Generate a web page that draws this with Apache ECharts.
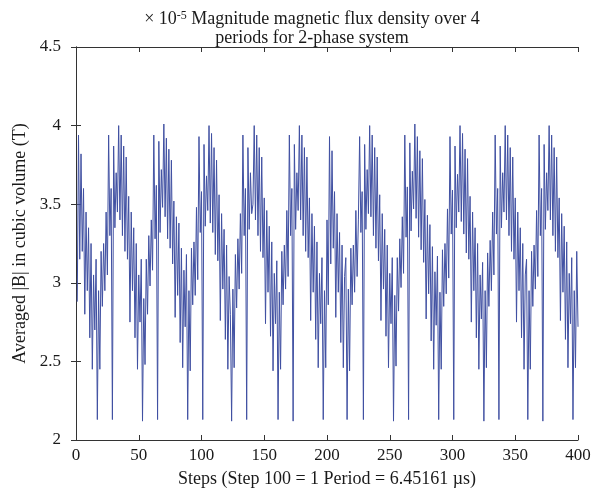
<!DOCTYPE html>
<html style="height: 100%">
<head>
    <meta charset="UTF-8">
    <title>Magnitude magnetic flux density</title>
    <script type="text/javascript" src="https://cdn.jsdelivr.net/npm/echarts@6/dist/echarts.min.js"></script>
</head>
<body style="height: 100%; margin: 0; background: #fff">
    <div id="container" style="width: 608px; height: 493px"></div>
    <script type="text/javascript">
        // averaged |B| (x 1e-5 T), steps 1..200 and 201..400
        var firstRun = [
            2.88, 3.94, 3.15, 3.82, 3.20, 3.60, 2.80, 3.45, 2.95, 3.35, 2.65, 3.25, 2.45, 3.05, 2.70, 3.15,
            2.13, 2.95, 2.45, 3.20, 2.85, 3.25, 2.95, 3.45, 3.05, 3.94, 3.30, 3.60, 2.13, 3.87, 3.35, 3.70, 3.45, 4.00,
            3.40, 3.94, 3.30, 3.87, 3.20, 3.80, 3.15, 3.55, 2.75, 3.45, 2.95, 3.35, 2.65, 3.25, 2.45, 3.05, 2.75, 3.15,
            2.12, 2.90, 2.48, 3.15, 2.80, 3.30, 2.98, 3.40, 3.08, 3.94, 3.28, 3.62, 2.13, 3.90, 3.32, 3.72, 3.48, 4.01,
            3.42, 3.92, 3.28, 3.85, 3.22, 3.78, 3.12, 3.52, 2.78, 3.42, 2.92, 3.38, 2.62, 3.22, 2.46, 3.08, 2.72, 3.18,
            2.13, 2.95, 2.44, 3.22, 2.86, 3.26, 2.92, 3.48, 3.02, 3.93, 3.32, 3.58, 2.13, 3.88, 3.36, 3.68, 3.46, 4.00,
            3.38, 3.95, 3.32, 3.86, 3.18, 3.78, 3.14, 3.56, 2.76, 3.44, 2.96, 3.34, 2.64, 3.24, 2.45, 3.04, 2.80,
            2.12, 2.96, 2.46, 3.18, 2.84, 3.28, 2.96, 3.44, 3.06, 3.94, 3.30, 3.60, 2.13, 3.86, 3.34, 3.70, 3.44, 3.50,
            4.00, 3.40, 3.94, 3.30, 3.86, 3.20, 3.80, 3.16, 3.54, 2.74, 3.46, 2.94, 3.36, 2.66, 3.26, 2.44, 3.06, 2.74, 3.14,
            2.13, 2.94, 2.45, 3.20, 2.86, 3.24, 2.96, 3.46, 3.04, 3.94, 3.30, 3.60, 2.12, 3.88, 3.34, 3.70, 3.46, 4.00,
            3.40, 3.94, 3.30, 3.86, 3.20, 3.80, 3.16, 3.54, 2.76, 3.44, 2.94, 3.36, 2.64, 3.26, 2.46, 3.06, 2.74, 3.16,
            2.13, 2.95, 2.46, 3.40
        ];
        var secondRun = [
            2.86, 3.93, 3.12, 3.84, 3.22, 3.58, 2.78, 3.44, 2.94, 3.32, 2.62, 3.24, 2.46, 3.04, 3.16,
            2.13, 2.96, 2.44, 3.22, 2.86, 3.24, 2.94, 3.46, 3.04, 3.40, 3.93, 3.32, 3.58,
            2.13, 3.88, 3.34, 3.72, 3.44, 4.00, 3.42, 3.94, 3.30, 3.86, 3.22, 3.80, 3.14, 3.56, 2.76, 3.44, 2.96, 3.34,
            2.66, 3.24, 2.46, 3.06, 2.74, 3.16,
            2.12, 2.92, 2.47, 3.16, 2.82, 3.28, 2.97, 3.42, 3.06, 3.94, 3.29, 3.61, 2.13, 3.89, 3.33, 3.71, 3.47, 4.01,
            3.41, 3.93, 3.29, 3.84, 3.21, 3.79, 3.13, 3.53, 2.77, 3.43, 2.93, 3.37, 2.63, 3.23, 2.45, 3.07, 2.73, 3.17,
            2.13, 2.94, 2.45, 3.21, 2.85, 3.25, 2.93, 3.47, 3.03, 3.93, 3.31, 3.59, 2.13, 3.87, 3.35, 3.69, 3.45, 4.00,
            3.39, 3.95, 3.31, 3.85, 3.19, 3.79, 3.15, 3.55, 2.75, 3.45, 2.95, 3.35, 2.65, 3.25, 2.45, 3.05, 2.77, 3.13,
            2.12, 2.95, 2.46, 3.19, 2.85, 3.27, 2.95, 3.45, 3.05, 3.94, 3.31, 3.60, 2.13, 3.87, 3.35, 3.70, 3.45, 4.00,
            3.40, 3.94, 3.30, 3.86, 3.20, 3.80, 3.15, 3.54, 2.75, 3.45, 2.95, 3.35, 2.65, 3.25, 2.45, 3.05, 3.15,
            2.13, 2.95, 2.45, 3.20, 2.85, 3.24, 2.96, 3.46, 3.04, 3.94, 3.30, 3.60, 2.12, 3.88, 3.34, 3.70, 3.46, 4.00,
            3.40, 3.94, 3.30, 3.86, 3.20, 3.80, 3.16, 3.54, 2.76, 3.44, 2.94, 3.36, 2.64, 3.26, 2.46, 3.06, 2.74, 3.16,
            2.13, 2.95, 2.46, 3.20, 2.72
        ];
        var xTicks = [0, 50, 100, 150, 200, 250, 300, 350, 400];
        var yTicks = [2, 2.5, 3, 3.5, 4, 4.5];

        var values = firstRun.concat(secondRun);
        var points = values.map(function (v, i) {
            return [i + 1, v];
        });

        var font = 'Liberation Serif, Times New Roman, serif';
        var textColor = '#1a1a1a';
        var axisColor = '#333';

        var myChart = echarts.init(document.getElementById('container'));

        var boxAxis = {
            axisLine: { show: true, lineStyle: { color: axisColor, width: 1 } },
            axisTick: { show: true, inside: true, length: 5, lineStyle: { color: axisColor } },
            splitLine: { show: false }
        };

        var option = {
            animation: false,
            backgroundColor: '#fff',
            title: {
                text: '× 10{sup|-5} Magnitude magnetic flux density over 4\nperiods for 2-phase system',
                left: 307,
                top: 5,
                textAlign: 'center',
                textStyle: {
                    fontFamily: font,
                    fontSize: 18,
                    fontWeight: 'normal',
                    color: textColor,
                    lineHeight: 19,
                    rich: {
                        sup: { fontFamily: font, fontSize: 12, color: textColor, padding: [0, 0, 8, 0] }
                    }
                }
            },
            grid: { left: 76, right: 30, top: 47, bottom: 53 },
            xAxis: [
                Object.assign({}, boxAxis, {
                    type: 'value',
                    min: xTicks[0],
                    max: xTicks[xTicks.length - 1],
                    interval: xTicks[1] - xTicks[0],
                    name: 'Steps (Step 100 = 1 Period = 6.45161 µs)',
                    nameLocation: 'middle',
                    nameGap: 30,
                    nameTextStyle: { fontFamily: font, fontSize: 18, color: textColor },
                    axisLabel: { fontFamily: font, fontSize: 17, color: textColor, margin: 7 }
                }),
                Object.assign({}, boxAxis, {
                    type: 'value',
                    position: 'top',
                    min: xTicks[0],
                    max: xTicks[xTicks.length - 1],
                    interval: xTicks[1] - xTicks[0],
                    axisLabel: { show: false }
                })
            ],
            yAxis: [
                Object.assign({}, boxAxis, {
                    type: 'value',
                    min: yTicks[0],
                    max: yTicks[yTicks.length - 1],
                    interval: yTicks[1] - yTicks[0],
                    name: 'Averaged |B| in cubic volume (T)',
                    nameLocation: 'middle',
                    nameGap: 46,
                    nameTextStyle: { fontFamily: font, fontSize: 18, color: textColor },
                    axisLabel: { fontFamily: font, fontSize: 17, color: textColor, margin: 15 }
                }),
                Object.assign({}, boxAxis, {
                    type: 'value',
                    position: 'right',
                    min: yTicks[0],
                    max: yTicks[yTicks.length - 1],
                    interval: yTicks[1] - yTicks[0],
                    axisLabel: { show: false }
                })
            ],
            series: [{
                type: 'line',
                data: points,
                showSymbol: false,
                symbol: 'none',
                lineStyle: { color: '#4050a2', width: 1 }
            }]
        };

        myChart.setOption(option);
    </script>
</body>
</html>
